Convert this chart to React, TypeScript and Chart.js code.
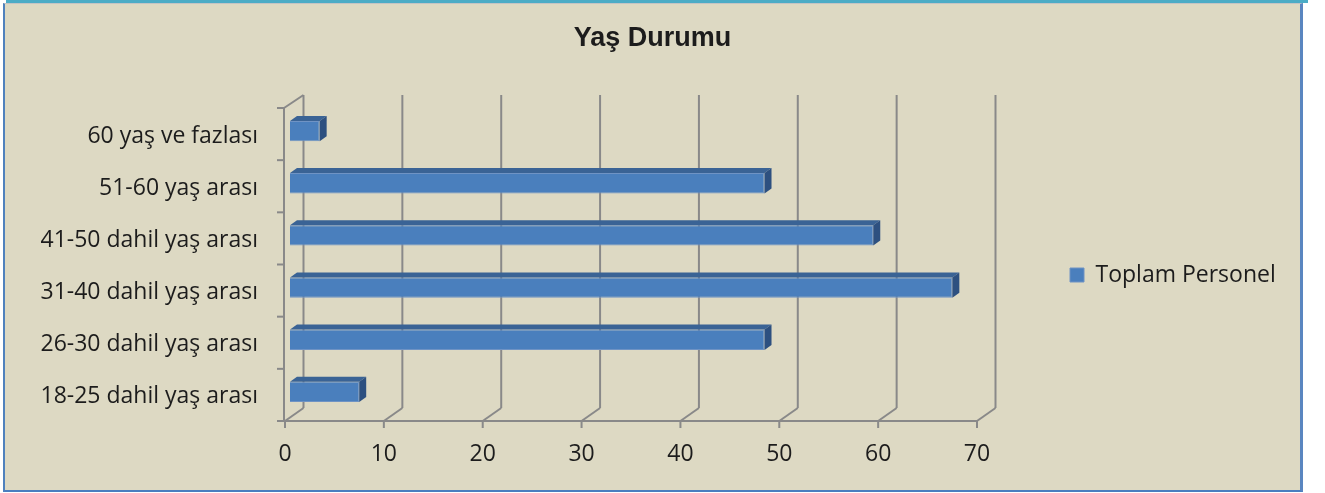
import React, { useEffect, useRef } from 'react';
import { Chart, registerables } from 'chart.js';

Chart.register(...registerables);

// ---- data ----
const chartTitle = 'Yaş Durumu';
const seriesName = 'Toplam Personel';
const categories = [
  '18-25 dahil yaş arası',
  '26-30 dahil yaş arası',
  '31-40 dahil yaş arası',
  '41-50 dahil yaş arası',
  '51-60 yaş arası',
  '60 yaş ve fazlası',
];
const toplamPersonel = [7, 48, 67, 59, 48, 3];
const xTickValues = [0, 10, 20, 30, 40, 50, 60, 70];

// ---- style ----
const BG = '#ddd9c3';
const GRID = '#898989';
const FRONT = '#4a7fbd';
const TOP = '#3a6395';
const SIDE = '#2d5080';
const TEXT = '#1c1c1c';
const LABEL_FONT = "'Open Sans', sans-serif";

const DX = 18.5; // depth offset of back wall
const DY = -13;
const BAR_SHIFT_X = 5;
const BAR_SHIFT_Y = -3;
const BAR_DX = 7;
const BAR_DY = -5;

const CANVAS_W = 1295;
const CANVAS_H = 486;

function line(ctx: CanvasRenderingContext2D, x1: number, y1: number, x2: number, y2: number) {
  ctx.beginPath();
  ctx.moveTo(x1, y1);
  ctx.lineTo(x2, y2);
  ctx.stroke();
}

const frame3d = {
  id: 'frame3d',
  beforeDraw(chart: any) {
    const ctx = chart.ctx;
    ctx.save();
    ctx.fillStyle = BG;
    ctx.fillRect(0, 0, chart.width, chart.height);
    ctx.restore();
  },
  afterLayout(chart: any) {
    const tb = chart.titleBlock;
    if (tb) {
      tb.left = 0;
      tb.right = CANVAS_W;
      tb.width = CANVAS_W;
    }
    const lg = chart.legend;
    if (lg) {
      lg.left = 1055;
      lg.right = CANVAS_W;
      lg.width = CANVAS_W - 1055;
      lg.top = 271 - 100;
      lg.bottom = 271 + 100;
      lg.height = 200;
    }
  },
  beforeDatasetsDraw(chart: any) {
    const ctx: CanvasRenderingContext2D = chart.ctx;
    const { left, right, top, bottom } = chart.chartArea;
    const xs = chart.scales.x;
    ctx.save();
    ctx.strokeStyle = GRID;
    ctx.lineWidth = 2;
    ctx.lineCap = 'butt';
    xTickValues.forEach((v) => {
      const px = xs.getPixelForValue(v);
      line(ctx, px + DX, top + DY, px + DX, bottom + DY);
      line(ctx, px, bottom, px + DX, bottom + DY);
      line(ctx, px, bottom, px, bottom + 7);
    });
    line(ctx, left - 1, bottom, right, bottom);
    line(ctx, left - 1, top, left - 1, bottom);
    line(ctx, left - 1, top, xs.getPixelForValue(0) + DX, top + DY);
    const n = categories.length;
    for (let i = 0; i <= n; i++) {
      const yb = top + ((bottom - top) * i) / n;
      line(ctx, left - 8, yb, left - 1, yb);
    }
    ctx.restore();
    ctx.save();
    ctx.translate(BAR_SHIFT_X, BAR_SHIFT_Y);
  },
  afterDatasetsDraw(chart: any) {
    const ctx: CanvasRenderingContext2D = chart.ctx;
    const meta = chart.getDatasetMeta(0);
    meta.data.forEach((bar: any) => {
      const { x, y, base, height } = bar.getProps(['x', 'y', 'base', 'height'], true);
      const t = y - height / 2;
      const b = y + height / 2;
      ctx.fillStyle = TOP;
      ctx.beginPath();
      ctx.moveTo(base, t);
      ctx.lineTo(base + BAR_DX, t + BAR_DY);
      ctx.lineTo(x + BAR_DX, t + BAR_DY);
      ctx.lineTo(x, t);
      ctx.closePath();
      ctx.fill();
      ctx.fillStyle = SIDE;
      ctx.beginPath();
      ctx.moveTo(x, t);
      ctx.lineTo(x + BAR_DX, t + BAR_DY);
      ctx.lineTo(x + BAR_DX, b + BAR_DY);
      ctx.lineTo(x, b);
      ctx.closePath();
      ctx.fill();
    });
    ctx.restore();
  },
};

function ChartCanvas() {
  const ref = useRef<HTMLCanvasElement | null>(null);
  useEffect(() => {
    if (!ref.current) return;
    const chart = new Chart(ref.current, {
      type: 'bar',
      data: {
        labels: categories,
        datasets: [
          {
            label: seriesName,
            data: toplamPersonel,
            backgroundColor: FRONT,
            borderColor: '#6f93c4',
            borderWidth: 1,
            categoryPercentage: 1,
            barPercentage: 0.39,
          },
        ],
      },
      options: {
        indexAxis: 'y',
        responsive: false,
        animation: false,
        devicePixelRatio: 1,
        layout: { padding: { left: 0, right: 123, top: 0, bottom: 0 } },
        scales: {
          x: {
            type: 'linear',
            min: 0,
            max: 70,
            grid: { display: false, drawTicks: false },
            border: { display: false },
            afterFit(scale: any) {
              scale.height = CANVAS_H - 417;
            },
            ticks: {
              stepSize: 10,
              padding: 20,
              color: TEXT,
              font: { family: LABEL_FONT, size: 23 },
            },
          },
          y: {
            type: 'category',
            reverse: true,
            grid: { display: false, drawTicks: false },
            border: { display: false },
            afterFit(scale: any) {
              scale.width = 280;
            },
            ticks: {
              padding: 27,
              labelOffset: 2,
              color: TEXT,
              font: { family: LABEL_FONT, size: 23 },
            },
          },
        },
        plugins: {
          title: {
            display: true,
            text: chartTitle,
            color: TEXT,
            font: { family: "'Liberation Sans', Arial, sans-serif", size: 27, weight: 'bold' },
            padding: { top: 18, bottom: 53.6 },
          },
          legend: {
            display: true,
            position: 'right',
            maxWidth: 200,
            labels: {
              boxWidth: 14,
              boxHeight: 14,
              color: TEXT,
              font: { family: LABEL_FONT, size: 23 },
            },
          },
          tooltip: { enabled: false },
        },
      },
      plugins: [frame3d],
    } as any);
    return () => chart.destroy();
  }, []);
  return <canvas ref={ref} width={CANVAS_W} height={CANVAS_H} style={{ display: 'block', width: CANVAS_W, height: CANVAS_H }} />;
}

export default function App() {
  return (
    <div style={{ position: 'absolute', left: 0, top: 0, width: 1325, height: 493, background: '#ffffff', overflow: 'hidden' }}>
      <div style={{ position: 'absolute', left: 6, top: 0, width: 1302, height: 3, background: '#4bacc6' }} />
      <div
        style={{
          position: 'absolute',
          left: 3,
          top: 3,
          width: CANVAS_W,
          height: CANVAS_H,
          borderTop: '1px solid #c4c4c4',
          borderLeft: '2px solid #4f81bd',
          borderRight: '3px solid #5a86c0',
          borderBottom: '2px solid #4a7ec0',
          background: BG,
        }}
      >
        <ChartCanvas />
      </div>
    </div>
  );
}
